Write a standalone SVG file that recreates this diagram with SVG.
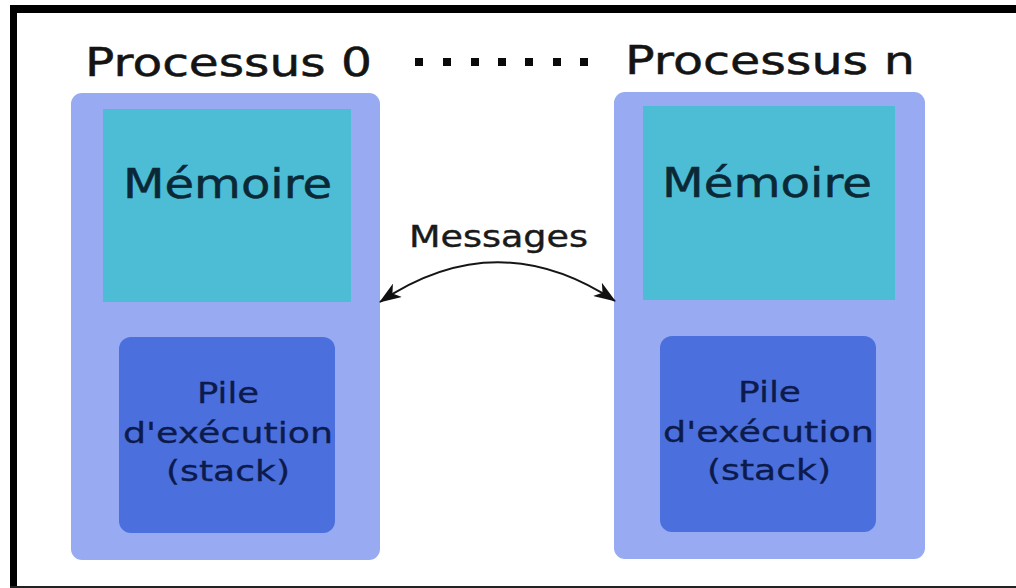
<svg xmlns="http://www.w3.org/2000/svg" width="1016" height="588" viewBox="0 0 1016 588">
  <defs>
    <style>
      text { font-family: "DejaVu Sans", "Liberation Sans", sans-serif; stroke-width: 0.5px; }
      .title { font-size: 39px; fill: #141414; stroke: #141414; }
      .mem { font-size: 41px; fill: #0b2836; stroke: #0b2836; }
      .stk { font-size: 28px; fill: #0d1a4c; stroke: #0d1a4c; stroke-width: 0.3px; }
      .msg { font-size: 30px; fill: #1a1a1a; stroke: #1a1a1a; stroke-width: 0.4px; }
      .proc { fill: #97aaf2; }
      .memory { fill: #4dbdd5; }
      .stack { fill: #4b70dd; }
      .dot { fill: #0a0a0a; }
    </style>
    <marker id="head" viewBox="0 0 22 16" refX="21" refY="8" markerWidth="22" markerHeight="16" markerUnits="userSpaceOnUse" orient="auto-start-reverse">
      <path d="M0,0 L22,8 L0,16 L6,8 Z" fill="#111"/>
    </marker>
  </defs>

  <!-- page and frame -->
  <rect x="0" y="0" width="1016" height="588" fill="#ffffff"/>
  <rect x="10" y="5" width="1006" height="8" fill="#000"/>
  <rect x="10" y="5" width="7" height="583" fill="#000"/>
  <rect x="10" y="586" width="1006" height="2" fill="#222"/>

  <!-- headings -->
  <text class="title" x="85" y="76" textLength="287" lengthAdjust="spacingAndGlyphs">Processus 0</text>
  <text class="title" x="625" y="74" textLength="290" lengthAdjust="spacingAndGlyphs">Processus n</text>
  <g id="ellipsis">
    <rect class="dot" x="415" y="58" width="8" height="8"/>
    <rect class="dot" x="443" y="58" width="8" height="8"/>
    <rect class="dot" x="471" y="58" width="8" height="8"/>
    <rect class="dot" x="498" y="58" width="8" height="8"/>
    <rect class="dot" x="525" y="58" width="8" height="8"/>
    <rect class="dot" x="553" y="58" width="8" height="8"/>
    <rect class="dot" x="580" y="58" width="8" height="8"/>
  </g>

  <!-- process 0 -->
  <g id="process-0">
    <rect class="proc" x="71" y="93" width="309" height="467" rx="11"/>
    <g id="memory-0">
      <rect class="memory" x="103" y="109" width="248" height="193"/>
      <text class="mem" x="123" y="198" textLength="209" lengthAdjust="spacingAndGlyphs">Mémoire</text>
    </g>
    <g id="stack-0">
      <rect class="stack" x="119" y="337" width="216" height="196" rx="12"/>
      <text class="stk" x="197" y="403" textLength="62" lengthAdjust="spacingAndGlyphs">Pile</text>
      <text class="stk" x="123" y="443" textLength="210" lengthAdjust="spacingAndGlyphs">d'exécution</text>
      <text class="stk" x="166" y="481" textLength="124" lengthAdjust="spacingAndGlyphs">(stack)</text>
    </g>
  </g>

  <!-- process n -->
  <g id="process-n">
    <rect class="proc" x="614" y="92" width="311" height="467" rx="11"/>
    <g id="memory-n">
      <rect class="memory" x="643" y="106" width="252" height="194"/>
      <text class="mem" x="662" y="197" textLength="210" lengthAdjust="spacingAndGlyphs">Mémoire</text>
    </g>
    <g id="stack-n">
      <rect class="stack" x="660" y="336" width="216" height="196" rx="12"/>
      <text class="stk" x="738" y="402" textLength="63" lengthAdjust="spacingAndGlyphs">Pile</text>
      <text class="stk" x="663" y="442" textLength="211" lengthAdjust="spacingAndGlyphs">d'exécution</text>
      <text class="stk" x="707" y="480" textLength="124" lengthAdjust="spacingAndGlyphs">(stack)</text>
    </g>
  </g>

  <!-- message exchange -->
  <g id="connectors">
    <path d="M380,302 Q497,223 615,301" fill="none" stroke="#151515" stroke-width="2" marker-start="url(#head)" marker-end="url(#head)"/>
    <text class="msg" x="409" y="247" textLength="179" lengthAdjust="spacingAndGlyphs">Messages</text>
  </g>
</svg>
